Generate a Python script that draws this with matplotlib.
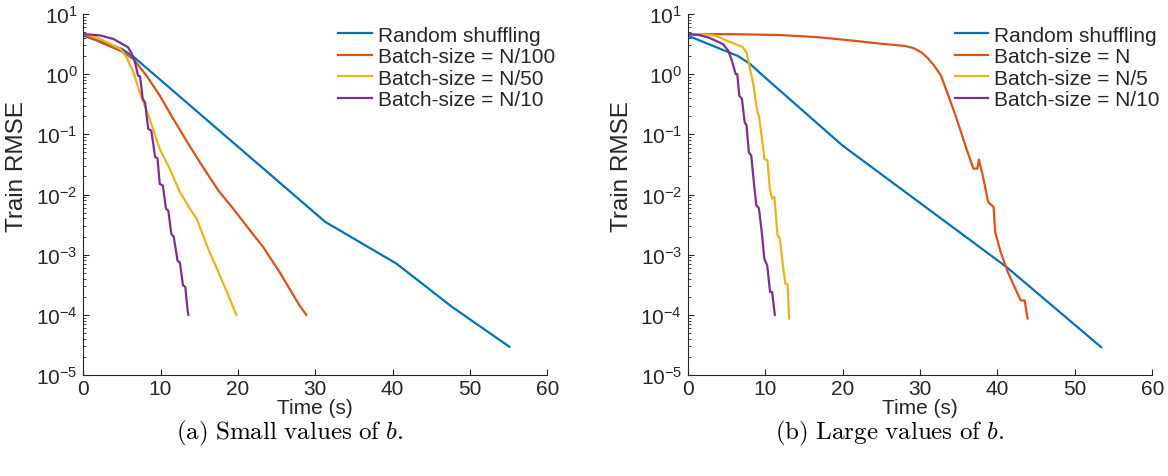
import numpy as np
import matplotlib
matplotlib.use("Agg")
import matplotlib.pyplot as plt
from matplotlib.ticker import LogLocator, NullLocator, FixedLocator

plt.rcParams["font.family"] = ["Liberation Sans", "DejaVu Sans"]
plt.rcParams["mathtext.fontset"] = "custom"
plt.rcParams["mathtext.rm"] = "Liberation Sans"
plt.rcParams["mathtext.it"] = "Liberation Sans:italic"

# ---- panel (a): small batch sizes ----
a_shuffle_t = [0, 5.0, 6.6, 31.3, 40.5, 47.7, 55.1]
a_shuffle_y = [4.37, 2.63, 1.90, 3.5e-3, 7.1e-4, 1.35e-4, 2.95e-5]

a_n100_t = [0, 2.2, 4.8, 6.5, 8.2, 9.9, 11.4, 13.6, 15.1, 17.5, 19.4, 21.6, 23.3, 25.4, 28.0, 28.85]
a_n100_y = [4.6, 3.4, 2.45, 1.78, 0.94, 0.44, 0.204, 0.069, 0.034, 0.0115, 0.0058, 0.0025,
            0.00132, 0.00051, 0.000141, 0.0001]

a_n50_t = [0, 1.0, 2.2, 4.8, 5.6, 6.5, 7.3, 8.6, 9.9, 11.2, 12.5, 13.8, 14.7, 16.0, 17.3, 18.6, 19.8]
a_n50_y = [4.6, 4.4, 3.85, 2.63, 1.9, 1.07, 0.50, 0.18, 0.057, 0.0265, 0.011, 0.0058, 0.0039,
           0.0014, 0.00058, 0.000235, 0.0001]

a_n10_t = [0, 1.0, 2.2, 3.9, 5.8, 6.3, 6.7, 7.1, 7.35, 7.7, 8.0, 8.4, 8.8, 9.3, 9.6, 9.9,
           10.3, 10.7, 11.0, 11.4, 11.7, 12.2, 12.5, 12.9, 13.2, 13.5, 13.6]
a_n10_y = [4.6, 4.55, 4.4, 3.85, 2.8, 2.16, 1.57, 0.94, 0.92, 0.386, 0.34, 0.123, 0.115, 0.042,
           0.040, 0.015, 0.0141, 0.0058, 0.0054, 0.0022, 0.0020, 0.00079, 0.00074, 0.00031,
           0.00029, 0.000118, 0.0001]

# ---- panel (b): large batch sizes ----
b_shuffle_t = [0, 6.5, 8.0, 9.5, 20.0, 41.2, 53.4]
b_shuffle_y = [4.37, 2.0, 1.5, 1.0, 0.065, 6.2e-4, 2.9e-5]

b_n_t = [0, 6.0, 12.0, 17.0, 21.4, 25.0, 28.0, 29.2, 30.2, 31.0, 31.8, 32.7, 34.6, 36.0, 36.9,
         37.4, 37.6, 38.1, 38.8, 39.5, 39.7, 40.4, 41.35, 42.5, 43.0, 43.5, 43.9]
b_n_y = [4.65, 4.62, 4.47, 4.1, 3.6, 3.2, 2.95, 2.7, 2.3, 1.85, 1.4, 0.955, 0.204, 0.0575, 0.0269,
         0.0269, 0.038, 0.0209, 0.0075, 0.0062, 0.0024, 0.00112, 0.00051, 0.00024, 0.000174,
         0.000174, 0.000087]

b_n5_t = [0, 2.0, 3.6, 5.0, 7.1, 7.6, 8.06, 8.5, 9.0, 9.2, 9.7, 9.9, 10.3, 10.6, 10.9, 11.2,
          11.6, 11.9, 12.3, 12.6, 12.9, 13.1]
b_n5_y = [4.65, 4.6, 4.37, 3.63, 2.82, 2.29, 1.23, 0.65, 0.234, 0.204, 0.066, 0.039, 0.037,
          0.0126, 0.0085, 0.0091, 0.0021, 0.00186, 0.00066, 0.00033, 0.00032, 0.000087]

b_n10_t = [0, 1.5, 2.7, 4.55, 5.25, 5.7, 6.2, 6.4, 6.66, 7.0, 7.36, 7.6, 7.9, 8.2, 8.5, 8.86,
           9.2, 9.56, 9.9, 10.27, 10.64, 10.9, 11.25]
b_n10_y = [4.65, 4.45, 4.07, 3.16, 2.45, 1.68, 1.0, 1.0, 0.437, 0.389, 0.158, 0.141, 0.050,
           0.0447, 0.0182, 0.0066, 0.0059, 0.0024, 0.00085, 0.00066, 0.00024, 0.00024, 0.0001]

panel_a = [("Random shuffling", a_shuffle_t, a_shuffle_y),
           ("Batch-size = N/100", a_n100_t, a_n100_y),
           ("Batch-size = N/50", a_n50_t, a_n50_y),
           ("Batch-size = N/10", a_n10_t, a_n10_y)]
panel_b = [("Random shuffling", b_shuffle_t, b_shuffle_y),
           ("Batch-size = N", b_n_t, b_n_y),
           ("Batch-size = N/5", b_n5_t, b_n5_y),
           ("Batch-size = N/10", b_n10_t, b_n10_y)]

colors = ["#0072BD", "#D95319", "#EDB120", "#7E2F8E"]
x_ticks = [0, 10, 20, 30, 40, 50, 60]
captions = [(r"(a) Small values of ", "b"), (r"(b) Large values of ", "b")]

W, H = 1168, 477
fig = plt.figure(figsize=(W / 100, H / 100), dpi=100)

def fx(px):
    return px / W

def fy(py):
    return 1 - py / H

axes_px = [(83.2, 547.3), (687.7, 1152.3)]
top_px, bot_px = 15.0, 376.0
axis_col = "#262626"

for i, (panel, (x0, x1)) in enumerate(zip([panel_a, panel_b], axes_px)):
    ax = fig.add_axes([fx(x0), fy(bot_px), fx(x1 - x0), (bot_px - top_px) / H])
    for (lab, t, y), c in zip(panel, colors):
        ax.plot(t, y, color=c, lw=1.6, label=lab, solid_joinstyle="round")
    ax.set_yscale("log")
    ax.set_xlim(0, 60)
    ax.set_ylim(1e-5, 1e1)
    ax.xaxis.set_major_locator(FixedLocator(x_ticks))
    ax.xaxis.set_minor_locator(NullLocator())
    ax.yaxis.set_major_locator(LogLocator(base=10, numticks=10))
    ax.yaxis.set_minor_locator(LogLocator(base=10, subs=np.arange(2, 10), numticks=20))
    for s in ["top", "right"]:
        ax.spines[s].set_visible(False)
    for s in ["left", "bottom"]:
        ax.spines[s].set_color(axis_col)
        ax.spines[s].set_linewidth(0.8)
    ax.tick_params(which="major", direction="in", length=4, width=0.8, color=axis_col,
                   labelsize=15, labelcolor="#262626")
    ax.tick_params(axis="x", which="major", pad=3)
    ax.tick_params(axis="y", which="major", pad=4)
    ax.tick_params(which="minor", direction="in", length=2, width=0.6, color=axis_col)
    ax.set_xlabel("Time (s)", fontsize=15, color="#262626", labelpad=0)
    ax.set_ylabel("Train RMSE", fontsize=17.5, color="#262626")
    ax.yaxis.set_label_coords(-0.118, 0.58)
    leg = ax.legend(loc="upper left", bbox_to_anchor=(0.550 if i == 0 else 0.575, 0.968),
                    frameon=False, fontsize=15, handlelength=1.6, handletextpad=0.3,
                    labelspacing=0.12, borderpad=0, borderaxespad=0)
    for txt in leg.get_texts():
        txt.set_color("#262626")
    ax.set_facecolor("none")

plt.rcParams["mathtext.fontset"] = "cm"
for (cx, (head, var)) in zip([290, 890], captions):
    fig.text(fx(cx), fy(433), r"$\mathrm{" + head.replace(" ", r"\ ") + r"}" + var + r".$",
             ha="center", va="center", fontsize=18, color="black")

fig.savefig("out.png", dpi=100)
